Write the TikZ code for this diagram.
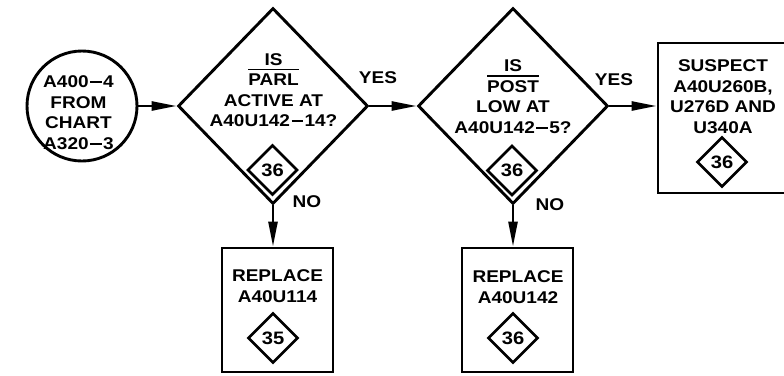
\documentclass[tikz,border=0pt]{standalone}
\usepackage{fontspec}
\setmainfont{Liberation Sans}[FakeStretch=1.12]
\usepackage{tikz}
\usetikzlibrary{shapes.geometric,arrows.meta,positioning}
\newcommand{\barsig}[1]{\leavevmode\vbox{\hrule height 1.9pt\kern 3.5pt\hbox{#1}}}
\newcommand{\sdash}{\kern1.5pt\rule[4.3pt]{11.5pt}{2pt}\kern1.5pt}

\begin{document}
\begin{tikzpicture}[x=1pt, y=-1pt, line width=2.9pt,
  txt/.style={font=\fontsize{17}{20.5}\selectfont\bfseries, align=center, inner sep=0pt},
  decision/.style={diamond, draw, minimum width=190pt, minimum height=196pt, inner sep=0pt},
  refmark/.style={diamond, draw, minimum width=50pt, minimum height=50pt, inner sep=0pt, line width=2.6pt, font=\fontsize{18}{18}\selectfont\bfseries},
  action/.style={rectangle, draw, inner sep=0pt},
  flow/.style={-{Triangle[length=25pt,width=9pt]}, line width=2.6pt}]
  \useasboundingbox (0,0) rectangle (784,375);
  % entry point
  \node[circle, draw, minimum size=110pt, inner sep=0pt] (entry) at (82,106) {};
  \node[txt] (entrytxt) at (78.5,112.5) {A400\sdash4\\FROM\\CHART\\A320\sdash3};
  % first test
  \node[decision] (parl) at (273,106) {};
  \node[txt] (parltxt) at (273.5,90) {IS\\\barsig{PARL}\\ACTIVE AT\\A40U142\sdash14?};
  \node[refmark] (parlref) at (272.5,170) {36};
  % second test
  \node[decision] (post) at (513,106) {};
  \node[txt] (posttxt) at (513,96.5) {IS\\\barsig{POST}\\LOW AT\\A40U142\sdash5?};
  \node[refmark] (postref) at (512,170.5) {36};
  % outcomes
  \node[action, minimum width=111pt, minimum height=124pt] (repa) at (277.5,310) {};
  \node[txt] (repatxt) at (277.5,286) {REPLACE\\A40U114};
  \node[refmark] (reparef) at (273,338) {35};
  \node[action, minimum width=111pt, minimum height=124pt] (repb) at (517.5,310) {};
  \node[txt] (repbtxt) at (518,287) {REPLACE\\A40U142};
  \node[refmark] (repbref) at (513,338) {36};
  \node[action, minimum width=130pt, minimum height=150pt] (susp) at (723,118) {};
  \node[txt] (susptxt) at (723,96.5) {SUSPECT\\A40U260B,\\U276D AND\\U340A};
  \node[refmark] (suspref) at (722,162) {36};
  % connectors
  \draw[flow] (entry.east) -- (parl.west);
  \draw[flow] (parl.east) -- (post.west);
  \draw[flow] (post.east) -- (post.east -| susp.west);
  \draw[flow] (parl.south) -- (parl.south |- repa.north);
  \draw[flow] (post.south) -- (post.south |- repb.north);
  % branch labels
  \node[txt] (yesa) at (378,78) {YES};
  \node[txt] (yesb) at (614,80) {YES};
  \node[txt] (noa) at (307,202) {NO};
  \node[txt] (nob) at (550,205) {NO};
\end{tikzpicture}
\end{document}
